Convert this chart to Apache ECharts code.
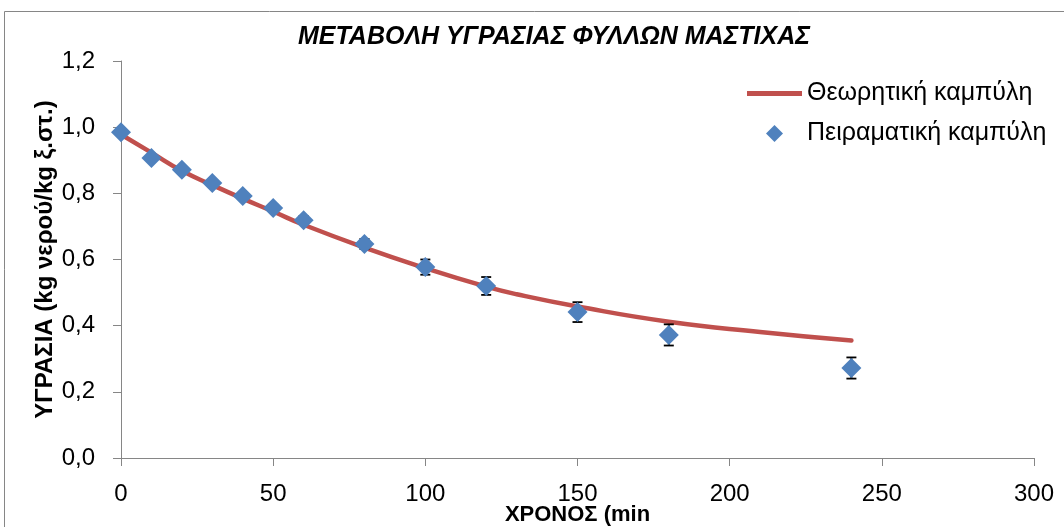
<!DOCTYPE html>
<html><head><meta charset="utf-8">
<script src="https://cdn.jsdelivr.net/npm/echarts@6/dist/echarts.min.js"></script>
<style>html,body{margin:0;padding:0;background:#fff;overflow:hidden}#c{width:1064px;height:527px}</style>
</head><body><div id="c"></div>
<script>
// Experimental points (time in min, moisture kg water / kg dry solid)
const expTime = [0, 10, 20, 30, 40, 50, 60, 80, 100, 120, 150, 180, 240];
const expMoist = [0.985, 0.907, 0.871, 0.831, 0.792, 0.756, 0.719, 0.647, 0.577, 0.520, 0.441, 0.372, 0.272];
const expErr = [0.008, 0.008, 0.008, 0.008, 0.008, 0.01, 0.012, 0.015, 0.023, 0.027, 0.03, 0.032, 0.032];
// Theoretical curve
const theoTime = [0, 10, 20, 30, 40, 50, 60, 80, 100, 120, 130, 150, 180, 210, 240];
const theoMoist = [0.978, 0.923, 0.868, 0.825, 0.784, 0.745, 0.705, 0.636, 0.574, 0.518, 0.495, 0.458, 0.412, 0.381, 0.355];
const xTicks = [0, 50, 100, 150, 200, 250, 300];
const yTicks = [0, 0.2, 0.4, 0.6, 0.8, 1.0, 1.2];

const titleText = 'ΜΕΤΑΒΟΛΗ ΥΓΡΑΣΙΑΣ ΦΥΛΛΩΝ ΜΑΣΤΙΧΑΣ';
const xName = 'ΧΡΟΝΟΣ (min';
const yName = 'ΥΓΡΑΣΙΑ (kg νερού/kg ξ.στ.)';
const nameTheo = 'Θεωρητική καμπύλη';
const nameExp = 'Πειραματική καμπύλη';

const chart = echarts.init(document.getElementById('c'), null, {width: 1064, height: 527});
const font = 'Liberation Sans, Arial, sans-serif';
const axisGray = '#868686';

chart.setOption({
  animation: false,
  backgroundColor: '#fff',
  graphic: [{
    type: 'rect', shape: {x: 4.5, y: 11.5, width: 1200, height: 700},
    style: {fill: 'none', stroke: axisGray, lineWidth: 1}, silent: true, z: -10
  }],
  title: {
    text: titleText, left: 549, top: 20, textAlign: 'center',
    textStyle: {fontFamily: font, fontStyle: 'italic', fontWeight: 'bold', fontSize: 25, color: '#000'}
  },
  legend: [{
    orient: 'vertical', left: 742, top: 76,
    itemWidth: 55, itemHeight: 5,
    textStyle: {fontFamily: font, fontSize: 25, color: '#000'},
    data: [{name: nameTheo, icon: 'rect', itemStyle: {color: '#C0504D'}}]
  }, {
    orient: 'vertical', left: 761, top: 116,
    itemWidth: 17, itemHeight: 17,
    textStyle: {fontFamily: font, fontSize: 25, color: '#000', padding: [0, 0, 0, 19]},
    data: [{name: nameExp, icon: 'diamond'}]
  }],
  grid: {left: 121, right: 30, top: 61, bottom: 69, containLabel: false, outerBoundsMode: 'none'},
  xAxis: {
    type: 'value', min: 0, max: 300, interval: 50,
    name: xName, nameLocation: 'middle', nameGap: 46, nameMoveOverlap: false,
    nameTextStyle: {fontFamily: font, fontWeight: 'bold', fontSize: 22, color: '#000'},
    axisLine: {show: true, lineStyle: {color: axisGray, width: 1}},
    axisTick: {show: true, length: 8, lineStyle: {color: axisGray}},
    axisLabel: {margin: 24, fontFamily: font, fontSize: 24, color: '#000',
      formatter: v => xTicks.includes(v) ? String(v) : ''},
    splitLine: {show: false}
  },
  yAxis: {
    type: 'value', min: 0, max: 1.2, interval: 0.2,
    name: yName, nameLocation: 'middle', nameGap: 64, nameRotate: 90, nameMoveOverlap: false,
    nameTextStyle: {fontFamily: font, fontWeight: 'bold', fontSize: 24, color: '#000'},
    axisLine: {show: true, lineStyle: {color: axisGray, width: 1}},
    axisTick: {show: true, length: 8, lineStyle: {color: axisGray}},
    axisLabel: {margin: 26, fontFamily: font, fontSize: 24, color: '#000',
      formatter: v => { const t = yTicks.find(a => Math.abs(a - v) < 1e-9); return t === undefined ? '' : t.toFixed(1).replace('.', ','); }},
    splitLine: {show: false}
  },
  series: [
    {
      name: nameTheo, type: 'line', smooth: true, showSymbol: false, symbol: 'none',
      data: theoTime.map((t, i) => [t, theoMoist[i]]),
      lineStyle: {color: '#C0504D', width: 4.5, cap: 'round'},
      itemStyle: {color: '#C0504D'}, z: 2
    },
    {
      name: 'err', type: 'custom', z: 3,
      data: expTime.map((t, i) => [t, expMoist[i], expErr[i]]),
      renderItem: (params, api) => {
        const x = api.value(0), y = api.value(1), e = api.value(2);
        const top = api.coord([x, y + e]), bot = api.coord([x, y - e]);
        const w = 10;
        const st = {stroke: '#000', lineWidth: 1.8};
        return {type: 'group', children: [
          {type: 'line', shape: {x1: top[0], y1: top[1], x2: bot[0], y2: bot[1]}, style: st},
          {type: 'line', shape: {x1: top[0]-w/2, y1: top[1], x2: top[0]+w/2, y2: top[1]}, style: st},
          {type: 'line', shape: {x1: bot[0]-w/2, y1: bot[1], x2: bot[0]+w/2, y2: bot[1]}, style: st}
        ]};
      }
    },
    {
      name: nameExp, type: 'scatter', symbol: 'diamond', symbolSize: 20,
      data: expTime.map((t, i) => [t, expMoist[i]]),
      itemStyle: {color: '#4F81BD', opacity: 1}, z: 4
    }
  ]
});
</script></body></html>
